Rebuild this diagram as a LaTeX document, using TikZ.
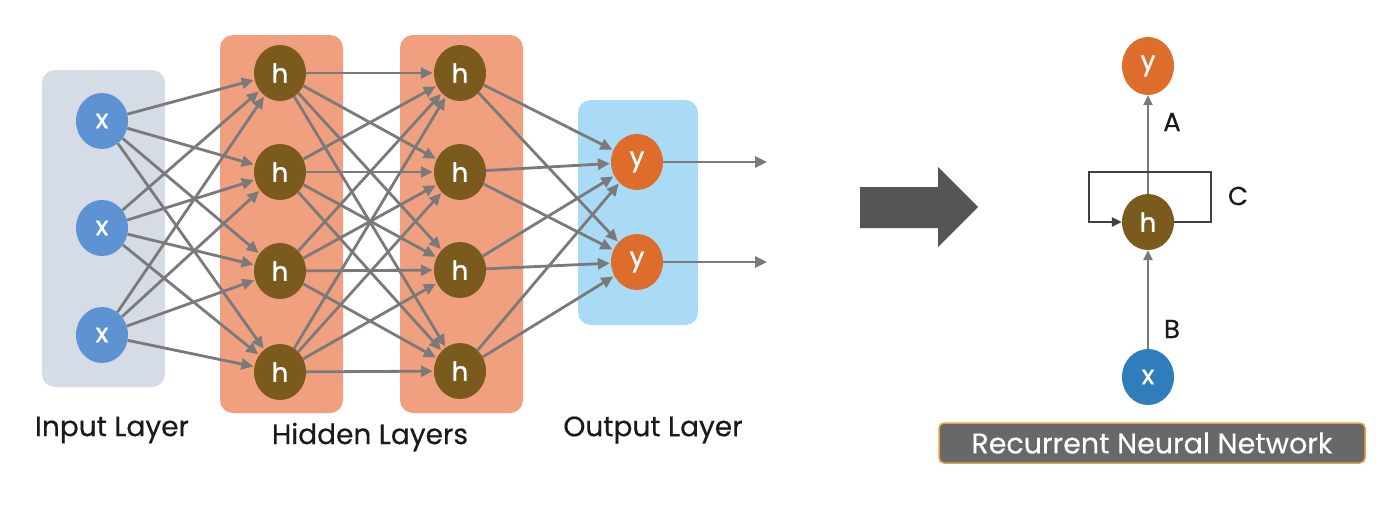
\documentclass[tikz,border=0pt]{standalone}
\usepackage{fontspec}
\setmainfont{Poppins}
\usetikzlibrary{arrows.meta,shapes.geometric}
\definecolor{inbox}{HTML}{D6DCE6}
\definecolor{hidbox}{HTML}{F0A07F}
\definecolor{outbox}{HTML}{A9DBF7}
\definecolor{xcol}{HTML}{5D93D3}
\definecolor{hcol}{HTML}{7A5B1D}
\definecolor{ycol}{HTML}{DE6C2B}
\definecolor{xcolb}{HTML}{2F7DBB}
\definecolor{edgecol}{HTML}{7A7A7A}
\definecolor{loopcol}{HTML}{404040}
\definecolor{bigarrow}{HTML}{555555}
\definecolor{bannerfill}{HTML}{686868}
\definecolor{bannerline}{HTML}{E3A443}
\definecolor{labelcol}{HTML}{1A1A1A}
\begin{document}
\begin{tikzpicture}[x=1pt,y=-1pt,
  neuron/.style={ellipse, minimum width=52pt, minimum height=56pt, inner sep=0pt, text=white, font=\fontsize{26}{26}\selectfont\addfontfeature{FakeBold=1.2}},
  xn/.style={neuron, fill=xcol},
  hn/.style={neuron, fill=hcol},
  yn/.style={neuron, fill=ycol},
  layerbox/.style={rounded corners=13pt, draw=none},
  conn/.style={draw=edgecol, line width=2.8pt, -{Triangle[length=12pt,width=11pt]}, shorten >=1pt},
  rconn/.style={draw=edgecol, line width=2.6pt, -{Triangle[length=10pt,width=9pt]}},
  loopline/.style={draw=loopcol, line width=2.6pt, -{Triangle[length=10pt,width=9pt]}},
  lbl/.style={text=labelcol, font=\fontsize{28}{28}\selectfont\addfontfeature{FakeBold=0.4}, inner sep=0pt},
  letter/.style={text=labelcol, font=\fontsize{26}{26}\selectfont\addfontfeature{FakeBold=0.4}, inner sep=0pt}
]
\useasboundingbox (0,0) rectangle (1384,528);
\fill[white] (0,0) rectangle (1384,528);
% boxes
\fill[inbox, layerbox] (42,70) rectangle (165,387);
\fill[hidbox, layerbox] (220,35) rectangle (343,413);
\fill[hidbox, layerbox] (400,35) rectangle (523,413);
\fill[outbox, layerbox] (578,100) rectangle (698,325);
% nodes
\node[xn] (x1) at (102,121) {x};
\node[xn] (x2) at (102,228) {x};
\node[xn] (x3) at (102,335) {x};
\node[hn] (a1) at (280,73) {h};
\node[hn] (a2) at (280,172) {h};
\node[hn] (a3) at (280,271) {h};
\node[hn] (a4) at (280,372) {h};
\node[hn] (b1) at (460,73) {h};
\node[hn] (b2) at (460,172) {h};
\node[hn] (b3) at (460,270) {h};
\node[hn] (b4) at (460,371) {h};
\node[yn] (y1) at (637,162) {y};
\node[yn] (y2) at (637,262) {y};
\coordinate (o1) at (768,162);
\coordinate (o2) at (768,262);
% connectors
\foreach \i in {1,2,3}{\foreach \j in {1,2,3,4}{\draw[conn] (x\i) -- (a\j);}}
\foreach \i in {1,2,3,4}{\foreach \j in {1,2,3,4}{\draw[conn] (a\i) -- (b\j);}}
\foreach \i in {1,2,3,4}{\foreach \j in {1,2}{\draw[conn] (b\i) -- (y\j);}}
\draw[conn] (y1) -- (o1);
\draw[conn] (y2) -- (o2);
% labels
\node[lbl] (l1) at (112,430) {Input Layer};
\node[lbl] (l2) at (370,437) {Hidden Layers};
\node[lbl] (l3) at (653,430) {Output Layer};
% big arrow
\fill[bigarrow] (860,187) -- (938,187) -- (938,167) -- (978,207) -- (938,247) -- (938,228) -- (860,228) -- cycle;
% RNN
\node[yn, minimum height=58pt] (ry) at (1148,66) {y};
\node[hn] (rh) at (1148,222) {h};
\node[xn, fill=xcolb] (rx) at (1148,377) {x};
\draw[rconn] (rh) -- (ry);
\draw[rconn] (rx) -- (rh);
\coordinate (c1) at (1211,172);
\coordinate (c2) at (1089,172);
\draw[loopline] (rh.east) -| (c1) -- (c2) |- (rh.west);
\node[letter] (la) at (1172,122) {A};
\node[letter] (lb) at (1172,329) {B};
\node[letter] (lc) at (1238,196) {C};
% banner
\node[draw=bannerline, fill=bannerfill, line width=1.5pt, rounded corners=5pt, minimum width=426pt, minimum height=40pt, text=white, font=\fontsize{28.5}{28.5}\selectfont\addfontfeature{FakeBold=0.4}] (banner) at (1152,443) {Recurrent Neural Network};
\end{tikzpicture}
\end{document}
